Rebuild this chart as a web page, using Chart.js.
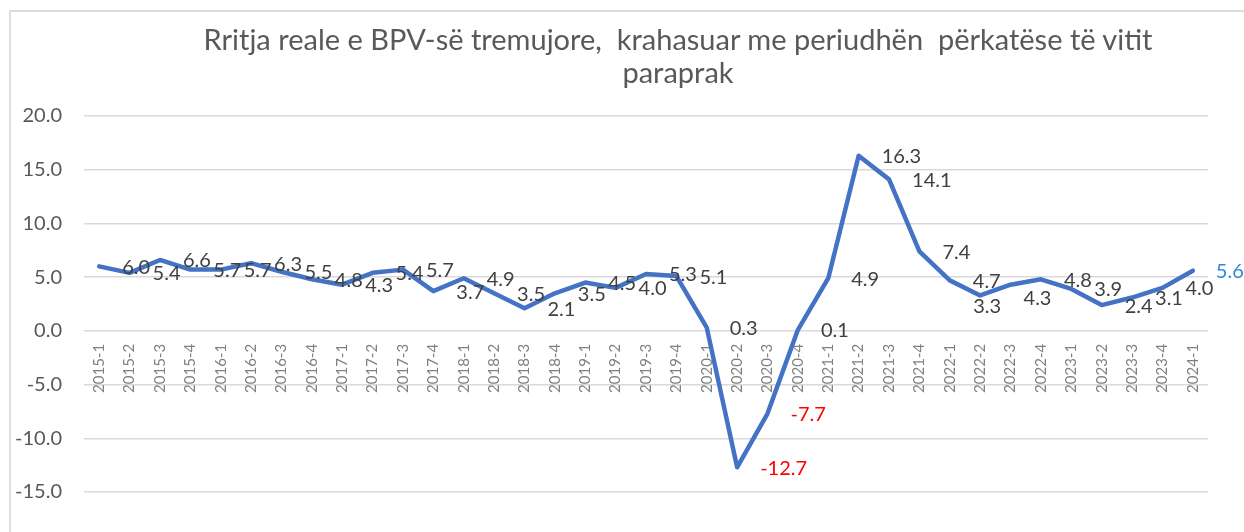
<!DOCTYPE html>
<html>
<head>
<meta charset="utf-8">
<title>Rritja reale e BPV-së tremujore</title>
<script src="https://cdn.jsdelivr.net/npm/chart.js@4"></script>
<style>
  html, body { margin: 0; padding: 0; background: #fff; overflow: hidden; }
  #wrap { position: relative; width: 1244px; height: 532px; }
  #frame { position: absolute; left: 9px; top: 10px; right: -10px; bottom: -10px;
           border-left: 2px solid #dedede; border-top: 2px solid #dedede; }
  #title { position: absolute; left: 678px; top: 22px; transform: translateX(-50%);
           font-family: Lato, sans-serif; font-size: 29px; line-height: 33px;
           color: #595959; text-align: center; white-space: pre; }
  canvas { position: absolute; left: 0; top: 0; }
</style>
</head>
<body>
<div id="wrap">
  <div id="frame"></div>
  <canvas id="myChart" width="1244" height="532"></canvas>
  <div id="title">Rritja reale e BPV-së tremujore,  krahasuar me periudhën  përkatëse të vitit
paraprak</div>
</div>
<script>
// quarters on the x axis
const quarters = [
  '2015-1', '2015-2', '2015-3', '2015-4',
  '2016-1', '2016-2', '2016-3', '2016-4',
  '2017-1', '2017-2', '2017-3', '2017-4',
  '2018-1', '2018-2', '2018-3', '2018-4',
  '2019-1', '2019-2', '2019-3', '2019-4',
  '2020-1', '2020-2', '2020-3', '2020-4',
  '2021-1', '2021-2', '2021-3', '2021-4',
  '2022-1', '2022-2', '2022-3', '2022-4',
  '2023-1', '2023-2', '2023-3', '2023-4',
  '2024-1'
];

// real GDP growth, % y/y
const growth = [
  6.0, 5.4, 6.6, 5.7,
  5.7, 6.3, 5.5, 4.8,
  4.3, 5.4, 5.7, 3.7,
  4.9, 3.5, 2.1, 3.5,
  4.5, 4.0, 5.3, 5.1,
  0.3, -12.7, -7.7, 0.1,
  4.9, 16.3, 14.1, 7.4,
  4.7, 3.3, 4.3, 4.8,
  3.9, 2.4, 3.1, 4.0,
  5.6
];

const yMin = -15;
const yMax = 20;
const yStep = 5;

// a couple of labels were moved by hand in the original
const labelNudge = {
  '2022-2': { dx: -7, dy: 11 },
  '2022-3': { dx: 13, dy: 14 }
};

const valueLabels = {
  id: 'valueLabels',
  afterDatasetsDraw(chart) {
    const ctx = chart.ctx;
    const meta = chart.getDatasetMeta(0);
    ctx.save();
    ctx.font = '20px Lato';
    ctx.textAlign = 'left';
    ctx.textBaseline = 'middle';
    meta.data.forEach(function(pt, i) {
      const v = growth[i];
      const n = labelNudge[quarters[i]] || { dx: 23, dy: 1 };
      if (v < 0) ctx.fillStyle = '#ff0000';
      else if (i === growth.length - 1) ctx.fillStyle = '#2e87d8';
      else ctx.fillStyle = '#404040';
      ctx.fillText(v.toFixed(1), pt.x + n.dx, pt.y + n.dy);
    });
    ctx.restore();
  }
};

document.addEventListener('DOMContentLoaded', function() {
  const ctx = document.getElementById('myChart');

  new Chart(ctx, {
    type: 'line',
    data: {
      labels: quarters,
      datasets: [{
        label: 'Rritja reale e BPV',
        data: growth,
        borderColor: '#4472c4',
        borderWidth: 4.5,
        pointRadius: 0,
        tension: 0,
        borderCapStyle: 'round',
        borderJoinStyle: 'round'
      }]
    },
    options: {
      responsive: false,
      animation: false,
      layout: { padding: { top: 116, bottom: 40, left: 12, right: 36 } },
      plugins: {
        legend: { display: false },
        tooltip: { enabled: false }
      },
      scales: {
        x: {
          position: { y: 0 },
          offset: true,
          grid: { display: false, drawTicks: false },
          border: { display: false },
          ticks: {
            autoSkip: false,
            minRotation: 90,
            maxRotation: 90,
            padding: 13,
            color: '#808080',
            font: { family: 'Lato', size: 15 }
          }
        },
        y: {
          min: yMin,
          max: yMax,
          grid: { color: '#d9d9d9', lineWidth: 1.5, drawTicks: false },
          border: { display: false },
          ticks: {
            stepSize: yStep,
            padding: 22,
            color: '#595959',
            font: { family: 'Lato', size: 20 },
            callback: function(v) { return v.toFixed(1); }
          },
          afterFit: function(scale) { scale.width = 72; }
        }
      }
    },
    plugins: [valueLabels]
  });
});
</script>
</body>
</html>
